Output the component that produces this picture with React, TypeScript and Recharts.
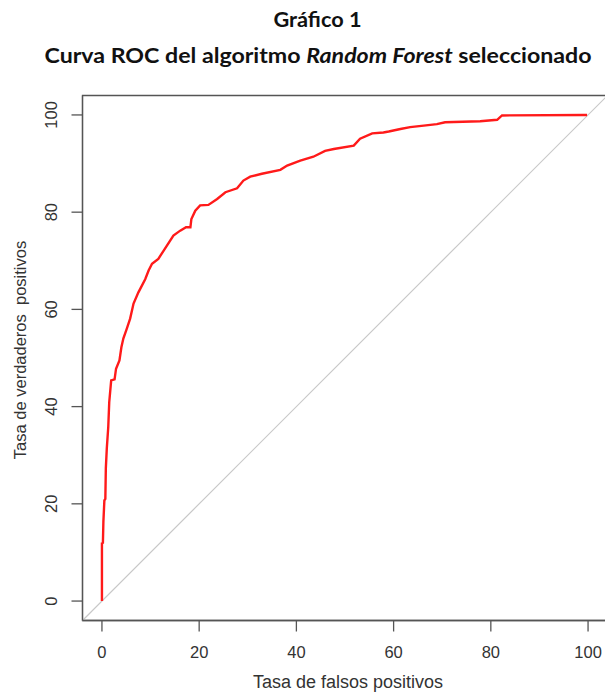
import { LineChart, Line, XAxis, YAxis, ReferenceLine, ReferenceArea } from "recharts";

// ROC curve (percent)
const fpr = [
  0, 0, 0.2, 0.3, 0.5, 0.7, 0.8, 1.0, 1.3, 1.5, 1.9, 2.6, 2.9, 3.6, 4.0, 4.4, 5.1, 5.8, 6.5, 7.5,
  8.9, 9.6, 10.3, 11.6, 12.7, 14.7, 16.1, 17.3, 18.2, 18.4, 19.2, 20.2, 21.9, 23.7, 25.4, 27.8,
  29.1, 30.5, 32.9, 36.7, 38.1, 40.8, 43.5, 45.9, 47.7, 51.8, 53.1, 55.6, 57.9, 59.0, 61.4, 63.4,
  66.2, 68.9, 70.6, 77.8, 81.3, 82.3, 99.1, 99.8,
];
const tpr = [
  0, 11.9, 12.0, 16.4, 20.7, 21.0, 27.3, 31.4, 35.8, 40.9, 45.4, 45.6, 47.8, 49.5, 52.2, 54.0, 56.0,
  58.1, 61.2, 63.5, 66.2, 68.0, 69.4, 70.4, 72.1, 75.2, 76.2, 76.9, 76.9, 78.6, 80.3, 81.4, 81.5,
  82.7, 84.1, 84.9, 86.5, 87.3, 87.9, 88.7, 89.6, 90.6, 91.4, 92.6, 93.0, 93.7, 95.1, 96.2, 96.4,
  96.6, 97.1, 97.5, 97.8, 98.1, 98.5, 98.7, 99.0, 99.9, 100, 100,
];
const ticks = [0, 20, 40, 60, 80, 100];
const domain = [-4, 104];
const diagonal = [
  { x: -4, y: -4 },
  { x: 104, y: 104 },
];

const data = fpr.map((x, i) => ({ fpr: x, tpr: tpr[i] }));

const axisColor = "#555";
const textColor = "#333";
const font = "'Liberation Sans', Arial, sans-serif";

function YTick(props: any) {
  const { x, y, payload } = props;
  return (
    <text
      x={x}
      y={y}
      transform={`rotate(-90 ${x} ${y})`}
      textAnchor="middle"
      dominantBaseline="central"
      fill={textColor}
      fontSize={16.5}
      fontFamily={font}
    >
      {payload.value}
    </text>
  );
}

export default function App() {
  return (
    <div style={{ position: "absolute", left: 0, top: 0, width: 605, height: 694, overflow: "hidden", background: "#fff" }}>
      <LineChart
        width={625}
        height={694}
        data={data}
        margin={{ top: 95.5, right: 17.5, bottom: 0, left: 0 }}
      >
        <XAxis
          dataKey="fpr"
          type="number"
          domain={domain}
          ticks={ticks}
          allowDataOverflow
          height={73.5}
          tickSize={11}
          tickMargin={15}
          stroke={axisColor}
          strokeWidth={1.3}
          tick={{ fill: textColor, fontSize: 16.5, fontFamily: font }}
        />
        <YAxis
          dataKey="tpr"
          type="number"
          domain={domain}
          ticks={ticks}
          allowDataOverflow
          width={82.5}
          tickSize={11}
          tickMargin={20.5}
          stroke={axisColor}
          strokeWidth={1.3}
          tick={<YTick />}
        />
        <ReferenceArea x1={-4} x2={104} y1={-4} y2={104} fill="none" stroke={axisColor} strokeWidth={1.3} />
        <ReferenceLine segment={diagonal} stroke="#c8c8c8" strokeWidth={1.2} />
        <Line
          type="linear"
          dataKey="tpr"
          stroke="#ff1a1a"
          strokeWidth={2.4}
          dot={false}
          isAnimationActive={false}
        />
      </LineChart>
      <svg width={605} height={694} style={{ position: "absolute", left: 0, top: 0, pointerEvents: "none" }}>
        <text
          x={317.5}
          y={27}
          textAnchor="middle"
          fontFamily="Lato, sans-serif"
          fontWeight={700}
          fontSize={20.5}
          fill="#111"
          textLength={88}
          lengthAdjust="spacingAndGlyphs"
        >
          Gráfico 1
        </text>
        <text
          x={318}
          y={63.3}
          textAnchor="middle"
          fontFamily="Lato, sans-serif"
          fontWeight={700}
          fontSize={20.5}
          fill="#111"
          textLength={547}
          lengthAdjust="spacingAndGlyphs"
        >
          Curva ROC del algoritmo <tspan fontStyle="italic">Random Forest</tspan> seleccionado
        </text>
        <text x={348} y={688} textAnchor="middle" fontFamily={font} fontSize={18} fill={textColor}>
          Tasa de falsos positivos
        </text>
        <text
          x={20}
          y={350}
          transform="rotate(-90 20 350)"
          textAnchor="middle"
          dominantBaseline="central"
          fontFamily={font}
          fontSize={16.5}
          fill={textColor}
        >
          {"Tasa de verdaderos\u00a0 positivos"}
        </text>
      </svg>
    </div>
  );
}
